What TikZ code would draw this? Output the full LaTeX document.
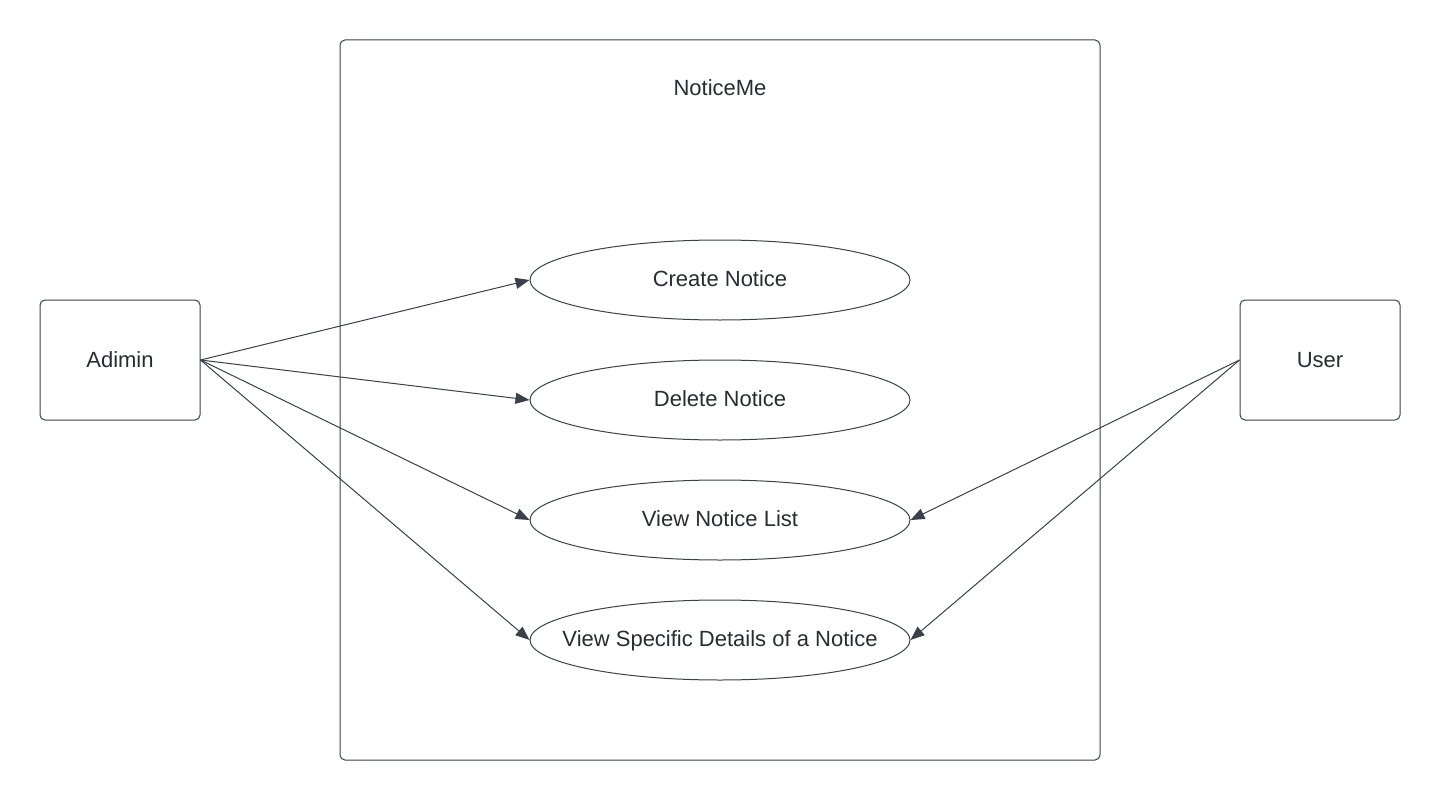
\documentclass[tikz,border=0pt]{standalone}
\usepackage{fontspec}
\setmainfont{Liberation Sans}
\usetikzlibrary{shapes.geometric,arrows.meta}
\definecolor{linec}{HTML}{3A414A}
\definecolor{textc}{HTML}{282C33}
\begin{document}
\begin{tikzpicture}[x=1pt,y=-1pt,
  every node/.style={text=textc,font=\fontsize{22}{26}\selectfont},
  actor/.style={draw=linec,line width=1pt,rounded corners=5pt,minimum width=160pt,minimum height=120pt,inner sep=0pt},
  usecase/.style={draw=linec,line width=1pt,ellipse,minimum width=380pt,minimum height=80pt,inner sep=0pt,inner xsep=-120pt,text height=16pt,text depth=4pt},
  assoc/.style={draw=linec,line width=1pt,-{Triangle[length=14pt,width=11pt]}}]
\useasboundingbox (0,0) rectangle (1440,800);
\fill[white] (0,0) rectangle (1440,800);
\draw[linec,line width=1pt,rounded corners=5pt] (340,40) rectangle (1100,760);
\node (title) at (720,88) {NoticeMe};
\node[actor] (admin) at (120,360) {Adimin};
\node[actor] (user) at (1320,360) {User};
\node[usecase] (create) at (720,280) {Create Notice};
\node[usecase] (delete) at (720,400) {Delete Notice};
\node[usecase] (list) at (720,520) {View Notice List};
\node[usecase] (details) at (720,640) {View Specific Details of a Notice};
\draw[assoc] (admin.east) -- (create.west);
\draw[assoc] (admin.east) -- (delete.west);
\draw[assoc] (admin.east) -- (list.west);
\draw[assoc] (admin.east) -- (details.west);
\draw[assoc] (user.west) -- (list.east);
\draw[assoc] (user.west) -- (details.east);
\end{tikzpicture}
\end{document}
